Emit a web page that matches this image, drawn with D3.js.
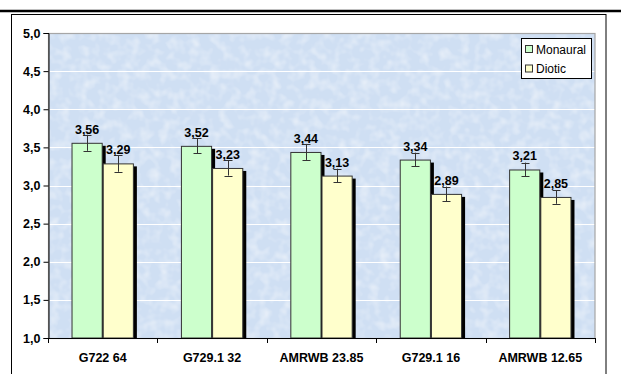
<!DOCTYPE html>
<html>
<head>
<meta charset="utf-8">
<script src="https://cdn.jsdelivr.net/npm/d3@7"></script>
<style>
  html, body { margin: 0; padding: 0; background: #fff; }
  svg { display: block; }
  text { font-family: "Liberation Sans", Arial, sans-serif; }
</style>
</head>
<body>
<script>
const categories = ["G722 64", "G729.1 32", "AMRWB 23.85", "G729.1 16", "AMRWB 12.65"];
const seriesNames = ["Monaural", "Diotic"];
const monaural = [3.56, 3.52, 3.44, 3.34, 3.21];
const diotic = [3.29, 3.23, 3.13, 2.89, 2.85];
const monauralErr = [0.105, 0.10, 0.105, 0.09, 0.09];
const dioticErr = [0.11, 0.10, 0.09, 0.096, 0.09];
const yTicks = [1.0, 1.5, 2.0, 2.5, 3.0, 3.5, 4.0, 4.5, 5.0];
const seriesColors = ["#CCFFCC", "#FFFFCC"];

const W = 621, H = 374;
const plot = { left: 48, right: 595, top: 33, bottom: 338 };
const FS = 12.5;

const svg = d3.select("body").append("svg").attr("width", W).attr("height", H);
const defs = svg.append("defs");

// subtle texture for plot background
const f = defs.append("filter").attr("id", "tex").attr("x", 0).attr("y", 0).attr("width", 1).attr("height", 1);
f.append("feTurbulence").attr("type", "fractalNoise").attr("baseFrequency", 0.1).attr("numOctaves", 2).attr("seed", 3).attr("result", "n");
f.append("feColorMatrix").attr("in", "n").attr("type", "matrix")
  .attr("values", "0 0 0 0 1  0 0 0 0 1  0 0 0 0 1  0.9 0 0 0 -0.38").attr("result", "w");
f.append("feComposite").attr("in", "w").attr("in2", "SourceGraphic").attr("operator", "over");

// top thick rule and outer frame
svg.append("line").attr("x1", 0).attr("x2", W).attr("y1", 11).attr("y2", 11)
  .attr("stroke", "#000").attr("stroke-width", 2.5);
svg.append("rect").attr("x", 11.5).attr("y", 14.5).attr("width", 594.5).attr("height", 380)
  .attr("fill", "none").attr("stroke", "#000").attr("stroke-width", 1);

const x0 = d3.scaleBand().domain(categories).range([plot.left, plot.right]).paddingInner(0.43).paddingOuter(0.215);
const x1 = d3.scaleBand().domain(seriesNames).range([0, x0.bandwidth()]);
const y = d3.scaleLinear().domain([1, 5]).range([plot.bottom, plot.top]);

// plot background
svg.append("rect").attr("x", plot.left).attr("y", plot.top)
  .attr("width", plot.right - plot.left).attr("height", plot.bottom - plot.top)
  .attr("fill", "#CFDFF3").attr("filter", "url(#tex)");

// gridlines
svg.append("g").selectAll("line").data(yTicks.filter(d => d > 1 && d < 5)).join("line")
  .attr("x1", plot.left).attr("x2", plot.right)
  .attr("y1", d => Math.round(y(d)) + 0.5).attr("y2", d => Math.round(y(d)) + 0.5)
  .attr("stroke", "#FFFFFF").attr("stroke-width", 1);

// plot border (top/right gray)
svg.append("rect").attr("x", plot.left + 0.5).attr("y", plot.top + 0.5)
  .attr("width", plot.right - plot.left - 0.5).attr("height", plot.bottom - plot.top)
  .attr("fill", "none").attr("stroke", "#A6A6A6").attr("stroke-width", 1.2);

const rows = categories.map((c, i) => [
  { cat: c, s: seriesNames[0], v: monaural[i], e: monauralErr[i], col: seriesColors[0] },
  { cat: c, s: seriesNames[1], v: diotic[i], e: dioticErr[i], col: seriesColors[1] }
]).flat();

const bx = d => x0(d.cat) + x1(d.s);
const bw = x1.bandwidth();

// shadows
svg.append("g").selectAll("rect").data(rows).join("rect")
  .attr("x", d => bx(d) + 3).attr("y", d => y(d.v) + 3)
  .attr("width", bw).attr("height", d => y(1) - y(d.v) - 3)
  .attr("fill", "#000");

// bars
svg.append("g").selectAll("rect").data(rows).join("rect")
  .attr("x", d => bx(d) + 0.5).attr("y", d => y(d.v) + 0.5)
  .attr("width", bw - 1).attr("height", d => y(1) - y(d.v) - 0.5)
  .attr("fill", d => d.col).attr("stroke", "#333").attr("stroke-width", 1);

// error bars
const eg = svg.append("g").attr("stroke", "#333").attr("stroke-width", 1);
rows.forEach(d => {
  const cx = Math.round(bx(d) + bw / 2) + 0.5;
  eg.append("line").attr("x1", cx).attr("x2", cx).attr("y1", y(d.v + d.e)).attr("y2", y(d.v - d.e));
  eg.append("line").attr("x1", cx - 4).attr("x2", cx + 4).attr("y1", Math.round(y(d.v + d.e)) + 0.5).attr("y2", Math.round(y(d.v + d.e)) + 0.5);
  eg.append("line").attr("x1", cx - 4).attr("x2", cx + 4).attr("y1", Math.round(y(d.v - d.e)) + 0.5).attr("y2", Math.round(y(d.v - d.e)) + 0.5);
});

// value labels
svg.append("g").selectAll("text").data(rows).join("text")
  .attr("x", d => bx(d) + bw / 2).attr("y", d => y(d.v) - 9)
  .attr("text-anchor", "middle").attr("font-size", FS).attr("font-weight", "bold").attr("fill", "#000")
  .text(d => d.v.toFixed(2).replace(".", ","));

// y axis
const yAxis = d3.axisLeft(y).tickValues(yTicks).tickSize(5).tickPadding(3)
  .tickFormat(d => d.toFixed(1).replace(".", ","));
const yg = svg.append("g").attr("transform", `translate(${plot.left + 0.5},0)`).call(yAxis);
yg.select(".domain").attr("stroke", "#000");
yg.selectAll(".tick line").attr("stroke", "#000");
yg.selectAll("text").attr("font-size", FS).attr("font-weight", "bold").attr("fill", "#000")
  .attr("font-family", "'Liberation Sans', Arial, sans-serif");

// x axis line and ticks at category boundaries
svg.append("line").attr("x1", plot.left).attr("x2", plot.right + 1)
  .attr("y1", plot.bottom + 0.5).attr("y2", plot.bottom + 0.5).attr("stroke", "#000");
const bounds = categories.map(c => x0(c) - x0.step() * x0.paddingOuter()).concat([plot.right]);
svg.append("g").selectAll("line").data(bounds).join("line")
  .attr("x1", d => Math.round(d) + 0.5).attr("x2", d => Math.round(d) + 0.5)
  .attr("y1", plot.bottom).attr("y2", plot.bottom + 5).attr("stroke", "#000");
svg.append("g").selectAll("text").data(categories).join("text")
  .attr("x", c => x0(c) + x0.bandwidth() / 2).attr("y", 362)
  .attr("text-anchor", "middle").attr("font-size", FS).attr("font-weight", "bold").attr("fill", "#000")
  .text(c => c);

// legend
const lg = svg.append("g");
lg.append("rect").attr("x", 521.5).attr("y", 38.5).attr("width", 70).attr("height", 40)
  .attr("fill", "#fff").attr("stroke", "#000").attr("stroke-width", 1);
seriesNames.forEach((s, i) => {
  const cy = 49 + i * 19.5;
  lg.append("rect").attr("x", 525.5).attr("y", cy - 3.5).attr("width", 7).attr("height", 7)
    .attr("fill", seriesColors[i]).attr("stroke", "#333").attr("stroke-width", 1);
  lg.append("text").attr("x", 536).attr("y", cy + 4.5).attr("font-size", 12).attr("fill", "#000").text(s);
});
</script>
</body>
</html>
